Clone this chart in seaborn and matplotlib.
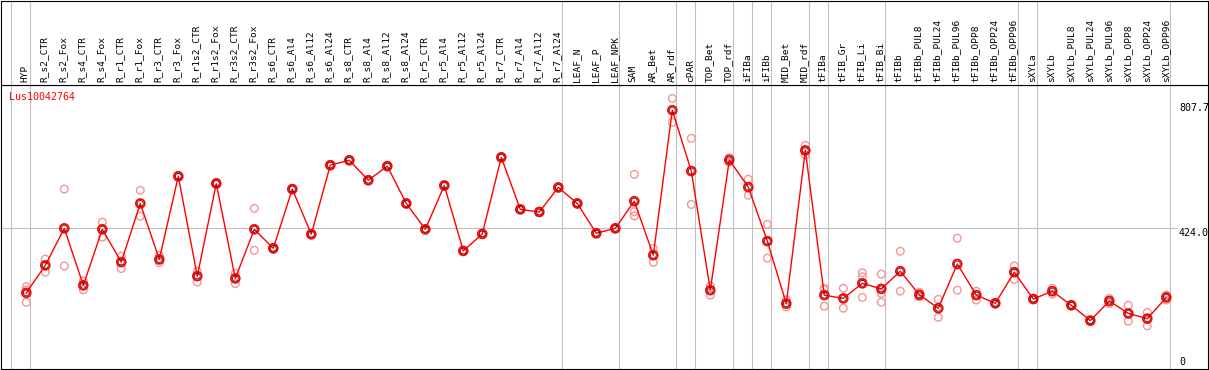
import numpy as np
import pandas as pd
import matplotlib
matplotlib.use("Agg")
from matplotlib import pyplot as plt
import seaborn as sns

# sample columns, in plot order
samples = ["HYP", "R_s2_CTR", "R_s2_Fox", "R_s4_CTR", "R_s4_Fox", "R_r1_CTR", "R_r1_Fox",
           "R_r3_CTR", "R_r3_Fox", "R_r1s2_CTR", "R_r1s2_Fox", "R_r3s2_CTR", "R_r3s2_Fox",
           "R_s6_CTR", "R_s6_Al4", "R_s6_Al12", "R_s6_Al24", "R_s8_CTR", "R_s8_Al4",
           "R_s8_Al12", "R_s8_Al24", "R_r5_CTR", "R_r5_Al4", "R_r5_Al12", "R_r5_Al24",
           "R_r7_CTR", "R_r7_Al4", "R_r7_Al12", "R_r7_Al24", "LEAF_N", "LEAF_P", "LEAF_NPK",
           "SAM", "AR_Bet", "AR_rdf", "cPAR", "TOP_Bet", "TOP_rdf", "iFIBa", "iFIBb",
           "MID_Bet", "MID_rdf", "tFIBa", "tFIB_Gr", "tFIB_Li", "tFIB_Bi", "tFIBb",
           "tFIBb_PUL8", "tFIBb_PUL24", "tFIBb_PUL96", "tFIBb_OPP8", "tFIBb_OPP24",
           "tFIBb_OPP96", "sXYLa", "sXYLb", "sXYLb_PUL8", "sXYLb_PUL24", "sXYLb_PUL96",
           "sXYLb_OPP8", "sXYLb_OPP24", "sXYLb_OPP96"]

# mean expression per sample
means = [227, 311, 424, 250, 421, 321, 500, 329, 583, 278, 561, 271, 421,
         363, 544, 406, 617, 632, 571, 614, 500, 421, 555, 355, 407, 641, 482, 474, 549,
         500, 409, 424, 507, 342, 785, 599, 235, 633, 550, 385, 194, 662,
         220, 210, 256, 239, 293, 221, 180, 315, 220, 195, 290,
         208, 232, 189, 142, 202, 164, 148, 213]

# replicate values per sample
replicates = [[246, 236, 198], [330, 290], [544, 309], [263, 236], [443, 397],
              [339, 301], [540, 461], [342, 319], [586, 580], [293, 260],
              [565, 558], [287, 255], [485, 357], [366, 360], [546, 542],
              [408, 404], [619, 615], [634, 630], [573, 569], [616, 612],
              [502, 498], [423, 419], [557, 553], [357, 353], [409, 405],
              [643, 639], [484, 480], [476, 472], [551, 547], [502, 498],
              [411, 407], [426, 422], [589, 475, 462], [363, 320], [821, 748],
              [699, 497], [248, 220], [640, 626], [574, 525], [436, 333],
              [205, 184], [678, 648], [241, 236, 186], [241, 180], [288, 276, 213],
              [284, 225, 198], [354, 232], [229, 215], [207, 152], [394, 235],
              [232, 205], [197, 193], [309, 268], [210, 206], [241, 223],
              [191, 187], [144, 140], [210, 194], [189, 140], [167, 126], [220, 205]]

# group separators sit just after these sample indices
group_ends = [-1, 0, 28, 31, 34, 35, 37, 38, 39, 41, 42, 45, 52, 53, 60]

gene = "Lus10042764"
tick_vals = [807.7, 424.0, 0]
tick_labels = ["807.7", "424.0", "0"]

rep_df = pd.DataFrame([(i, v) for i, vals in enumerate(replicates) for v in vals],
                      columns=["pos", "value"])
mean_df = pd.DataFrame({"pos": np.arange(len(samples)), "value": means})

sns.set_style("white")
plt.rcParams["font.family"] = ["DejaVu Sans Mono", "DejaVu Sans"]

W, H = 1209, 370
fig = plt.figure(figsize=(W / 100, H / 100), dpi=100)
ax = fig.add_axes([1 / W, 1 / H, 1207 / W, 284 / H])
hax = fig.add_axes([1 / W, 285 / H, 1207 / W, 84 / H], sharex=ax)

xlo, xhi = (1 - 26.3) / 19, (1208 - 26.3) / 19
ax.set_xlim(xlo, xhi)
ax.set_ylim(-5.8, 862)
hax.set_ylim(0, 1)

for a in (ax, hax):
    for s in a.spines.values():
        s.set_color("black")
        s.set_linewidth(0.8)
    a.set_xticks([])
    a.set_yticks([])
    for g in group_ends:
        a.axvline(g + 0.21, color="#c0c0c0", lw=0.8, zorder=0)

# gridline at middle tick
ax.axhline(424.0, xmin=0, xmax=1176 / 1207, color="#c0c0c0", lw=0.8, zorder=0)

sns.scatterplot(data=rep_df, x="pos", y="value", ax=ax, marker="o", s=30,
                facecolor="none", edgecolor="#f09898", linewidth=1.0, zorder=2)
sns.lineplot(data=mean_df, x="pos", y="value", ax=ax, color="red", lw=1.0, zorder=3)
sns.scatterplot(data=mean_df, x="pos", y="value", ax=ax, marker="o", s=40,
                facecolor="none", edgecolor="red", linewidth=1.3, zorder=4)
sns.scatterplot(data=mean_df, x="pos", y="value", ax=ax, marker="o", s=18,
                facecolor="none", edgecolor="#300000", linewidth=0.5, zorder=5)
ax.set_xlabel("")
ax.set_ylabel("")

# value labels on the right
tx = xlo + (1179 - 1) / 19
for v, lab in zip(tick_vals, tick_labels):
    ax.text(tx, v, lab, fontsize=7.2, color="black", ha="left",
            va="top" if v > 0 else "bottom", clip_on=False)

ax.text(xlo + 8 / 19, 862 - 12 / 0.3273, gene, color="red", fontsize=7.2,
        ha="left", va="center")

# column labels in header
for i, name in enumerate(samples):
    hax.text(i - 0.05, 0.03, name, rotation=90, ha="center", va="bottom",
             fontsize=6.8, color="black")

fig.savefig("out.png", dpi=100)
